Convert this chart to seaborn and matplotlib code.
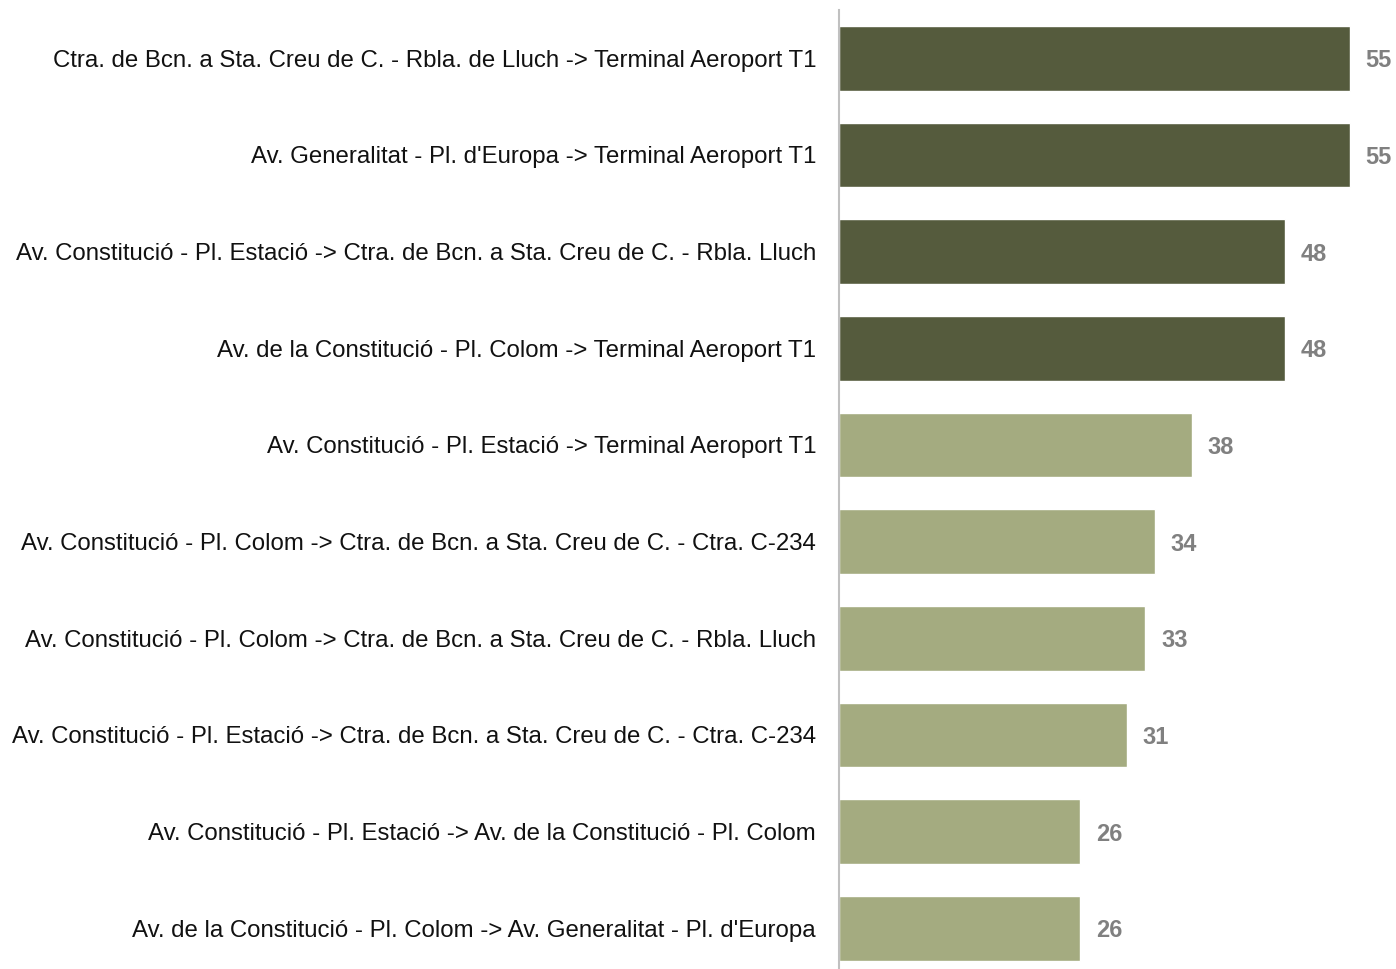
import matplotlib
matplotlib.use("Agg")
import matplotlib.pyplot as plt
import seaborn as sns
import pandas as pd

routes = [
    "Ctra. de Bcn. a Sta. Creu de C. - Rbla. de Lluch -> Terminal Aeroport T1",
    "Av. Generalitat - Pl. d'Europa -> Terminal Aeroport T1",
    "Av. Constitució - Pl. Estació -> Ctra. de Bcn. a Sta. Creu de C. - Rbla. Lluch",
    "Av. de la Constitució - Pl. Colom -> Terminal Aeroport T1",
    "Av. Constitució - Pl. Estació -> Terminal Aeroport T1",
    "Av. Constitució - Pl. Colom -> Ctra. de Bcn. a Sta. Creu de C. - Ctra. C-234",
    "Av. Constitució - Pl. Colom -> Ctra. de Bcn. a Sta. Creu de C. - Rbla. Lluch",
    "Av. Constitució - Pl. Estació -> Ctra. de Bcn. a Sta. Creu de C. - Ctra. C-234",
    "Av. Constitució - Pl. Estació -> Av. de la Constitució - Pl. Colom",
    "Av. de la Constitució - Pl. Colom -> Av. Generalitat - Pl. d'Europa",
]
values = [55, 55, 48, 48, 38, 34, 33, 31, 26, 26]
groups = ["top", "top", "top", "top", "rest", "rest", "rest", "rest", "rest", "rest"]

palette = {"top": "#555B3D", "rest": "#A4AB80"}

sns.set_theme(style="white")
plt.rcParams["font.family"] = ["Liberation Sans", "DejaVu Sans"]

df = pd.DataFrame({"route": routes, "value": values, "group": groups})

fig = plt.figure(figsize=(13.96, 9.69), dpi=100)
ax = fig.add_axes([839 / 1396, -0.0079, 557 / 1396, 0.9976])

sns.barplot(data=df, y="route", x="value", hue="group", palette=palette,
            dodge=False, width=0.67, legend=False, ax=ax, orient="h",
            saturation=1)

ax.set_xlim(0, 60)
ax.set_ylim(9.5, -0.5)
ax.set_xlabel("")
ax.set_ylabel("")
ax.set_xticks([])
ax.tick_params(axis="y", length=0, pad=16.5, labelsize=17.3, labelcolor="#111111")
for s in ["top", "right", "bottom"]:
    ax.spines[s].set_visible(False)
ax.spines["left"].set_color("#c0c0c0")
ax.spines["left"].set_linewidth(1.5)

for i, v in enumerate(values):
    ax.annotate(f"{v}", xy=(v, i), xytext=(11.5, 0), textcoords="offset points",
                va="center_baseline", ha="left", fontsize=17, fontweight="bold",
                color="#808080")

fig.savefig("out.png", dpi=100)
